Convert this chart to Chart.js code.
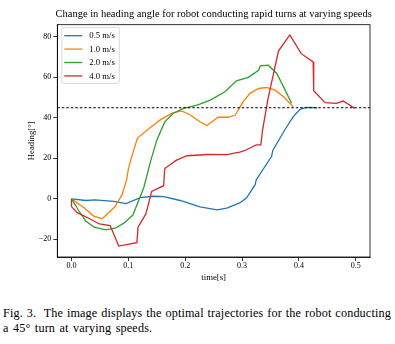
<!DOCTYPE html>
<html lang="en">
<head>
  <meta charset="UTF-8">
  <title>Change in heading angle</title>
  <script src="https://cdn.jsdelivr.net/npm/chart.js"></script>
  <style>
    body { margin: 0; background: #fff; width: 395px; height: 344px; position: relative; overflow: hidden; }
    #chart { position: absolute; left: 0; top: 0; }
    #caption {
      position: absolute; left: 3px; top: 306px; width: 388px;
      font-family: 'Liberation Serif', 'DejaVu Serif', serif; font-size: 12.2px; line-height: 15px;
      letter-spacing: 0.15px; color: #000; white-space: nowrap;
    }
    #caption .l1 { text-align: justify; text-align-last: justify; }
    #caption .l2 { text-align: left; word-spacing: 1.2px; }
  </style>
</head>
<body>

<canvas id="chart" width="395" height="290"></canvas>
<div id="caption">
  <div class="l1">Fig. 3.&nbsp; The image displays the optimal trajectories for the robot conducting</div>
  <div class="l2">a 45° turn at varying speeds.</div>
</div>

<script>
  const TITLE = 'Change in heading angle for robot conducting rapid turns at varying speeds';
  const labels = ['0.5 m/s', '1.0 m/s', '2.0 m/s', '4.0 m/s'];
  const colors = ['#1f77b4', '#ff7f0e', '#2ca02c', '#d62728'];

  // time[s] and heading[deg]
  const t05 = [0, 0.025, 0.042, 0.074, 0.096, 0.121, 0.144, 0.162, 0.191, 0.226, 0.256, 0.273, 0.296, 0.308, 0.323, 0.325, 0.352, 0.354, 0.375, 0.39, 0.402, 0.413, 0.432];
  const h05 = [0, -0.8, -0.5, -1.2, -2.3, 0.6, 1.3, 1.1, -0.8, -3.9, -5.4, -4.6, -2, 0.5, 7, 9.5, 21, 23.9, 34, 40.6, 44.2, 45.2, 45];

  const t10 = [0, 0.022, 0.039, 0.054, 0.076, 0.089, 0.097, 0.1, 0.106, 0.116, 0.137, 0.156, 0.177, 0.194, 0.209, 0.226, 0.238, 0.258, 0.276, 0.288, 0.302, 0.314, 0.329, 0.343, 0.358, 0.373, 0.39];
  const h10 = [0, -4.4, -8.5, -9.8, -4, 2.1, 9.5, 14.8, 21, 30, 34.9, 39, 42.3, 43.4, 41.4, 38.1, 36.2, 40.3, 40.3, 41.4, 48, 52.1, 54.5, 55, 53.7, 50.4, 45.5];

  const t20 = [0, 0.012, 0.025, 0.04, 0.06, 0.077, 0.092, 0.108, 0.127, 0.139, 0.15, 0.164, 0.179, 0.197, 0.221, 0.244, 0.27, 0.29, 0.311, 0.329, 0.332, 0.346, 0.361, 0.373, 0.387];
  const h20 = [0, -5.5, -11, -14, -15.3, -14.5, -12, -8, 5.5, 18.5, 29, 38, 42.3, 44.7, 46.3, 48.8, 52.9, 58.3, 60, 63.5, 65.7, 66, 61.9, 55.3, 47.2];

  const t40 = [0, 0, 0.01, 0.032, 0.049, 0.068, 0.083, 0.115, 0.117, 0.131, 0.141, 0.162, 0.164, 0.184, 0.203, 0.24, 0.273, 0.296, 0.305, 0.325, 0.333, 0.336, 0.346, 0.364, 0.384, 0.404, 0.425, 0.426, 0.446, 0.466, 0.478, 0.498];
  const h40 = [0, -3.8, -6.8, -9.8, -12.4, -13.2, -23.3, -21.6, -14, -7.3, 3.7, 6.5, 15, 19, 21.3, 21.9, 21.8, 23.1, 23.9, 26.7, 26.7, 34, 50, 73, 81, 71.7, 67.6, 53.4, 47.5, 47.2, 48.3, 44.7];

  // 45 deg target line
  const refT = [-0.025, 0.525];
  const refH = [45, 45];

  const xTicks = [0, 0.1, 0.2, 0.3, 0.4, 0.5];
  const yTicks = [-20, 0, 20, 40, 60, 80];

  const SERIF = "'Liberation Serif', 'DejaVu Serif', serif";
  const pts = (ts, hs) => ts.map((t, i) => ({ x: t, y: hs[i] }));
  const series = [[t05, h05], [t10, h10], [t20, h20], [t40, h40]];

  const datasets = series.map(([ts, hs], i) => ({
    label: labels[i],
    data: pts(ts, hs),
    borderColor: colors[i],
    borderWidth: 1.3,
    pointRadius: 0,
    order: 4 - i
  }));
  datasets.push({
    label: 'ref',
    data: pts(refT, refH),
    borderColor: '#000',
    borderWidth: 1,
    borderDash: [2.5, 2],
    pointRadius: 0,
    order: 0
  });

  // frame, title and legend box drawn like matplotlib
  const decor = {
    id: 'decor',
    afterDraw(chart) {
      const { ctx, chartArea: a } = chart;
      ctx.save();
      ctx.strokeStyle = '#000';
      ctx.lineWidth = 0.8;
      ctx.strokeRect(a.left, a.top, a.right - a.left, a.bottom - a.top);

      ctx.fillStyle = '#000';
      ctx.font = '10.5px ' + SERIF;
      ctx.textAlign = 'center';
      ctx.textBaseline = 'middle';
      ctx.fillText(TITLE, (a.left + a.right) / 2, 14.5);

      // legend
      const bx = a.left + 4.5, by = a.top + 2.7, bw = 57.5, bh = 56;
      ctx.beginPath();
      ctx.roundRect(bx, by, bw, bh, 2);
      ctx.fillStyle = 'rgba(255,255,255,0.85)';
      ctx.fill();
      ctx.strokeStyle = '#d0d0d0';
      ctx.lineWidth = 0.8;
      ctx.stroke();
      ctx.font = '8.7px ' + SERIF;
      ctx.textAlign = 'left';
      labels.forEach((lab, i) => {
        const y = by + 8.3 + i * 13.4;
        ctx.beginPath();
        ctx.moveTo(bx + 2.5, y);
        ctx.lineTo(bx + 20.5, y);
        ctx.strokeStyle = colors[i];
        ctx.lineWidth = 1.3;
        ctx.stroke();
        ctx.fillStyle = '#000';
        ctx.fillText(lab, bx + 27.5, y + 0.5);
      });
      ctx.restore();
    }
  };

  new Chart(document.getElementById('chart'), {
    type: 'line',
    data: { datasets },
    plugins: [decor],
    options: {
      responsive: false,
      animation: false,
      devicePixelRatio: 1,
      layout: { padding: { left: 24, right: 25, top: 24.7, bottom: 7 } },
      plugins: { legend: { display: false }, tooltip: { enabled: false }, title: { display: false } },
      scales: {
        x: {
          type: 'linear',
          min: -0.025,
          max: 0.525,
          afterFit: s => { s.height = 26; },
          afterBuildTicks: s => { s.ticks = xTicks.map(v => ({ value: v })); },
          grid: { drawOnChartArea: false, drawTicks: true, tickLength: 4, color: '#000', lineWidth: 0.8 },
          border: { display: true, color: '#000', width: 0.8 },
          ticks: { padding: 0, color: '#000', font: { family: SERIF, size: 8 }, maxRotation: 0,
                   callback: v => v.toFixed(1) },
          title: { display: true, text: 'time[s]', color: '#000', font: { family: SERIF, size: 8.7 },
                   padding: { top: 2, bottom: 0 } }
        },
        y: {
          min: -28.7,
          max: 86,
          afterFit: s => { s.width = 33.3; },
          afterBuildTicks: s => { s.ticks = yTicks.map(v => ({ value: v })); },
          grid: { drawOnChartArea: false, drawTicks: true, tickLength: 4, color: '#000', lineWidth: 0.8 },
          border: { display: true, color: '#000', width: 0.8 },
          ticks: { padding: 2, color: '#000', font: { family: SERIF, size: 8 },
                   callback: v => (v < 0 ? '\u2212' + Math.abs(v) : v) },
          title: { display: true, text: 'Heading[°]', color: '#000', font: { family: SERIF, size: 8.7 },
                   padding: { top: 2, bottom: 0 } }
        }
      }
    }
  });
</script>

</body>
</html>
